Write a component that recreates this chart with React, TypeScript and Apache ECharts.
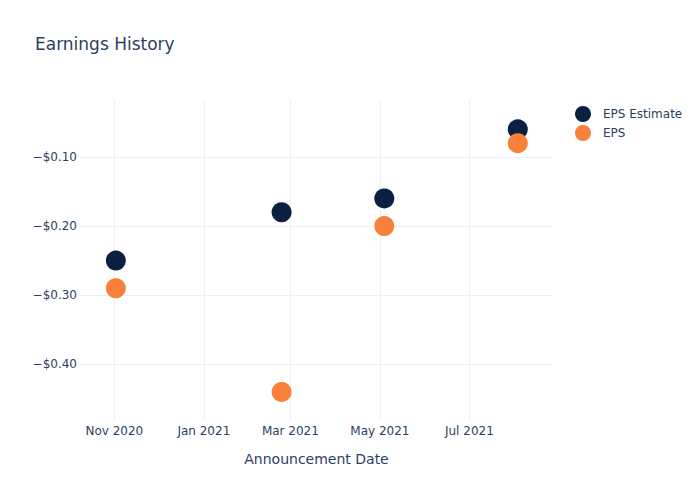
import React, { useEffect, useRef } from "react";
import * as echarts from "echarts";

const dates: [number, number, number][] = [
  [2020, 11, 2],
  [2021, 2, 23],
  [2021, 5, 4],
  [2021, 8, 3],
];
const epsEstimate = [-0.25, -0.18, -0.16, -0.06];
const epsActual = [-0.29, -0.44, -0.2, -0.08];
const xTicks: [number, number, number][] = [
  [2020, 11, 1],
  [2021, 1, 1],
  [2021, 3, 1],
  [2021, 5, 1],
  [2021, 7, 1],
];
const yTicks = [-0.4, -0.3, -0.2, -0.1];
const monthNames = ["Jan", "Feb", "Mar", "Apr", "May", "Jun", "Jul", "Aug", "Sep", "Oct", "Nov", "Dec"];

const ts = (d: [number, number, number]) => new Date(d[0], d[1] - 1, d[2]).getTime();

export default function App() {
  const ref = useRef<HTMLDivElement>(null);
  useEffect(() => {
    if (!ref.current) return;
    const chart = echarts.init(ref.current, undefined, { renderer: "svg" });
    const font = "DejaVu Sans";
    const textColor = "#2a3f5f";
    const grid = "#ebf0f8";
    chart.setOption({
      animation: false,
      backgroundColor: "#ffffff",
      textStyle: { fontFamily: font },
      title: {
        text: "Earnings History",
        left: 35,
        top: 35,
        padding: 0,
        textStyle: { fontFamily: font, fontSize: 17, fontWeight: "normal", color: textColor },
      },
      legend: {
        orient: "vertical",
        left: 575,
        top: 106,
        padding: 0,
        itemWidth: 16,
        itemHeight: 16,
        itemGap: 3,
        icon: "circle",
        textStyle: { fontFamily: font, fontSize: 12, color: textColor, padding: [0, 0, 0, 7] },
        data: ["EPS Estimate", "EPS"],
      },
      grid: { left: 80, right: 147, top: 100, bottom: 80 },
      xAxis: {
        type: "value",
        min: ts([2020, 10, 8]) + 14 * 3600e3,
        max: ts([2021, 8, 27]),
        name: "Announcement Date",
        nameLocation: "middle",
        nameGap: 32,
        nameTextStyle: { fontFamily: font, fontSize: 14, color: textColor },
        axisLine: { show: false },
        axisTick: { show: false, customValues: xTicks.map(ts) },
        axisLabel: {
          customValues: xTicks.map(ts),
          fontFamily: font,
          fontSize: 12,
          color: textColor,
          margin: 5,
          formatter: (v: number) => {
            const d = new Date(v);
            return monthNames[d.getMonth()] + " " + d.getFullYear();
          },
        },
        splitLine: { show: true, lineStyle: { color: grid, width: 1 } },
      },
      yAxis: {
        type: "value",
        min: -0.4806,
        max: -0.0176,
        axisLine: { show: false },
        axisTick: { show: false, customValues: yTicks },
        axisLabel: {
          customValues: yTicks,
          fontFamily: font,
          fontSize: 12,
          color: textColor,
          margin: 3,
          formatter: (v: number) => (v < 0 ? "\u2212" : "") + "$" + Math.abs(v).toFixed(2),
        },
        splitLine: { show: true, lineStyle: { color: grid, width: 1 } },
      },
      series: [
        {
          name: "EPS Estimate",
          type: "scatter",
          symbol: "circle",
          symbolSize: 20,
          itemStyle: { color: "#0b1f42", opacity: 1 },
          data: dates.map((d, i) => [ts(d), epsEstimate[i]]),
        },
        {
          name: "EPS",
          type: "scatter",
          symbol: "circle",
          symbolSize: 20,
          itemStyle: { color: "#f7813a", opacity: 1 },
          data: dates.map((d, i) => [ts(d), epsActual[i]]),
        },
      ],
    });
    return () => chart.dispose();
  }, []);
  return <div ref={ref} style={{ width: 700, height: 500, position: "absolute", left: 0, top: 0 }} />;
}
